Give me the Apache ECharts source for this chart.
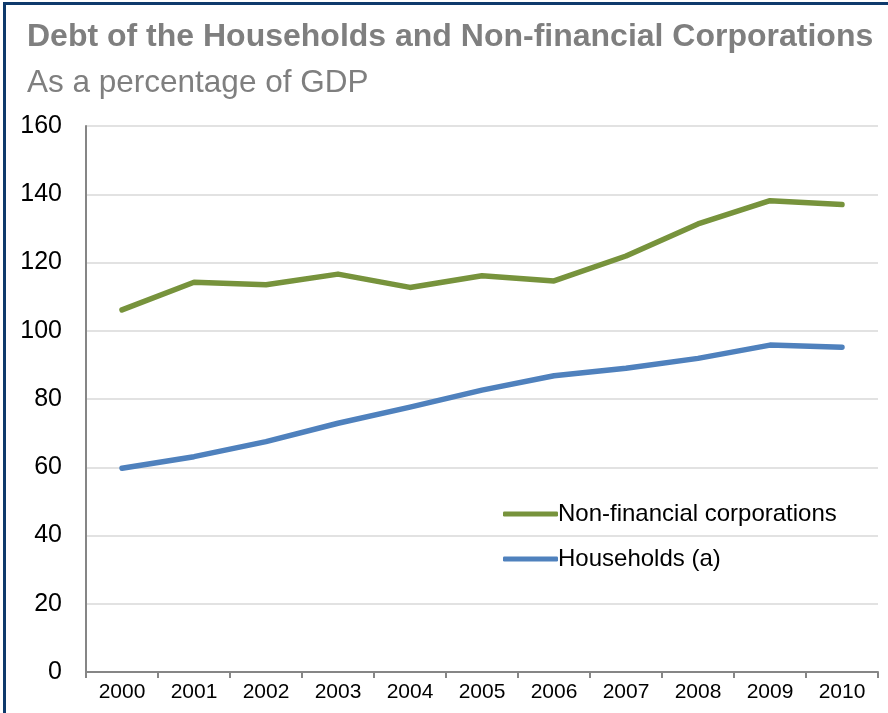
<!DOCTYPE html>
<html>
<head>
<meta charset="utf-8">
<script src="https://cdn.jsdelivr.net/npm/echarts@6/dist/echarts.min.js"></script>
<style>
  html, body { margin: 0; padding: 0; background: #ffffff; }
  #chart { width: 888px; height: 713px; }
</style>
</head>
<body>
<div id="chart"></div>
<script>
// Debt of households and non-financial corporations, % of GDP
const years = ['2000', '2001', '2002', '2003', '2004', '2005', '2006', '2007', '2008', '2009', '2010'];
const nonFinancialCorporations = [106.1, 114.2, 113.5, 116.6, 112.7, 116.1, 114.6, 121.9, 131.3, 138.1, 137.0];
const households = [59.7, 63.1, 67.5, 72.9, 77.6, 82.6, 86.8, 89.0, 91.9, 95.8, 95.2];
const yTicks = [0, 20, 40, 60, 80, 100, 120, 140, 160];

const GREEN = '#77933c';
const BLUE = '#4f81bd';
const FONT = '"Liberation Sans", Arial, sans-serif';

const chart = echarts.init(document.getElementById('chart'), null, { renderer: 'canvas' });

chart.setOption({
  backgroundColor: '#ffffff',
  animation: false,
  graphic: [
    // frame along the top and left edges
    { type: 'rect', left: 3, top: 2, shape: { width: 885, height: 3 }, style: { fill: '#0e3a6c' } },
    { type: 'rect', left: 3, top: 2, shape: { width: 3, height: 711 }, style: { fill: '#0e3a6c' } },
    {
      type: 'text', x: 27, y: 37,
      style: {
        text: 'Debt of the Households and Non-financial Corporations',
        font: 'bold 32px ' + FONT, fill: '#7f7f7f', verticalAlign: 'middle'
      }
    },
    {
      type: 'text', x: 27, y: 83,
      style: {
        text: 'As a percentage of GDP',
        font: '31.5px ' + FONT, fill: '#7f7f7f', verticalAlign: 'middle'
      }
    }
  ],
  grid: { left: 86, right: 10, top: 126, bottom: 41, containLabel: false },
  legend: {
    orient: 'vertical',
    left: 498, top: 497,
    itemWidth: 55, itemHeight: 5, itemGap: 21,
    icon: 'roundRect',
    textStyle: { fontFamily: FONT, fontSize: 24, color: '#000000', padding: [0, 0, 0, -5] },
    data: ['Non-financial corporations', 'Households (a)']
  },
  xAxis: {
    type: 'category',
    data: years,
    boundaryGap: true,
    axisLine: { show: true, lineStyle: { color: '#868686', width: 2 } },
    axisTick: { show: true, alignWithLabel: false, length: 6, lineStyle: { color: '#868686', width: 2 } },
    axisLabel: { fontFamily: FONT, fontSize: 21, color: '#000000', margin: 10 },
    splitLine: { show: false }
  },
  yAxis: {
    type: 'value',
    min: yTicks[0], max: yTicks[yTicks.length - 1], interval: 20,
    axisLine: { show: true, lineStyle: { color: '#868686', width: 2 } },
    axisTick: { show: false },
    axisLabel: { fontFamily: FONT, fontSize: 25, color: '#000000', margin: 24 },
    splitLine: { show: true, lineStyle: { color: '#d9d9d9', width: 1.5 } }
  },
  series: [
    {
      name: 'Non-financial corporations',
      type: 'line',
      data: nonFinancialCorporations,
      symbol: 'none',
      lineStyle: { color: GREEN, width: 5.5, cap: 'round', join: 'round' },
      itemStyle: { color: GREEN }
    },
    {
      name: 'Households (a)',
      type: 'line',
      data: households,
      symbol: 'none',
      lineStyle: { color: BLUE, width: 5.5, cap: 'round', join: 'round' },
      itemStyle: { color: BLUE }
    }
  ]
});
</script>
</body>
</html>
